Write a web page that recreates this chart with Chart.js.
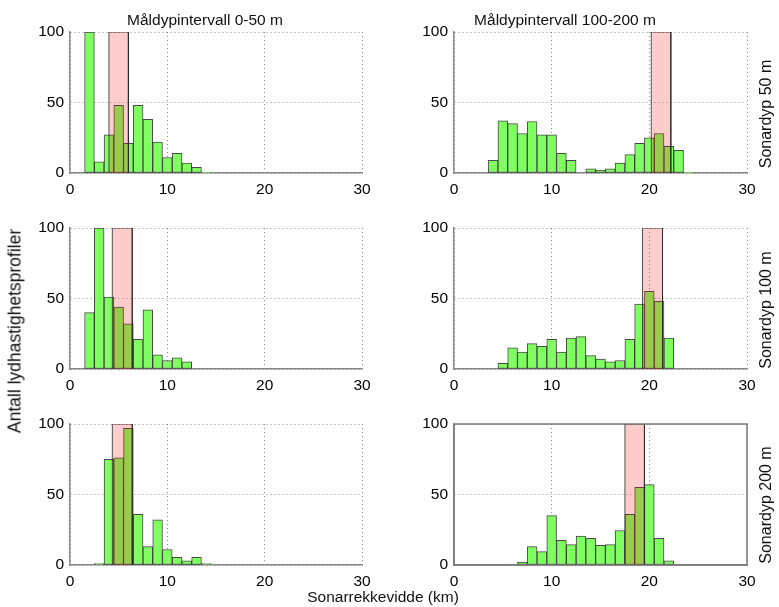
<!DOCTYPE html>
<html>
<head>
<meta charset="utf-8">
<script src="https://cdn.jsdelivr.net/npm/chart.js@4/dist/chart.umd.min.js"></script>
<style>
    body { margin: 0; background: #fff; }
    #page { position: relative; width: 779px; height: 607px; overflow: hidden; font-family: "Liberation Sans", Arial, sans-serif; }
    #page canvas { position: absolute; }
    .lbl { position: absolute; font-size: 15.5px; color: #111; white-space: nowrap; transform: translate(-50%, -50%); }
    .rot { transform: translate(-50%, -50%) rotate(-90deg); }
</style>
</head>
<body>
<div id="page">
    <canvas id="p1" width="367" height="185" style="left:25px;top:16px"></canvas>
    <canvas id="p2" width="368" height="185" style="left:409px;top:16px"></canvas>
    <canvas id="p3" width="367" height="185" style="left:25px;top:212px"></canvas>
    <canvas id="p4" width="368" height="185" style="left:409px;top:212px"></canvas>
    <canvas id="p5" width="367" height="185" style="left:25px;top:408px"></canvas>
    <canvas id="p6" width="368" height="185" style="left:409px;top:408px"></canvas>

    <div class="lbl" style="left:205px;top:20px">Måldypintervall 0-50 m</div>
    <div class="lbl" style="left:565px;top:20px">Måldypintervall 100-200 m</div>
    <div class="lbl rot" style="left:766px;top:114px;font-size:16px">Sonardyp 50 m</div>
    <div class="lbl rot" style="left:766px;top:310px;font-size:16px">Sonardyp 100 m</div>
    <div class="lbl rot" style="left:766px;top:505px;font-size:16px">Sonardyp 200 m</div>
    <div class="lbl rot" style="left:15px;top:331px;font-size:17.5px">Antall lydhastighetsprofiler</div>
    <div class="lbl" style="left:383px;top:597px">Sonarrekkevidde (km)</div>
</div>
<script>
// bin centres (km), 1 km wide histogram bins
const binCentres = [1, 2, 3, 4, 5, 6, 7, 8, 9, 10, 11, 12, 13, 14, 15, 16, 17, 18, 19, 20, 21, 22, 23, 24, 25, 26, 27, 28, 29];

// counts per bin, one array per panel (sonar depth / target depth interval)
const counts50Shallow  = [0, 100, 8, 27, 48, 21, 48, 38, 22, 11, 14, 7, 4, 0.5, 0, 0, 0, 0, 0, 0, 0, 0, 0, 0, 0, 0, 0, 0, 0];
const counts50Deep     = [0, 0, 0, 9, 37, 35, 28, 36.5, 27, 27, 14, 9, 0, 3, 2, 3, 7, 13, 21, 25, 28, 19, 16, 0.5, 0, 0, 0, 0, 0];
const counts100Shallow = [0, 40, 100, 51, 44, 32, 21, 42, 10, 6, 8, 5, 0, 0, 0, 0, 0, 0, 0, 0, 0, 0, 0, 0, 0, 0, 0, 0, 0];
const counts100Deep    = [0, 0, 0, 0, 4, 15, 12, 18, 16, 21, 12, 22, 23, 9.5, 7, 5, 6, 21, 46, 55, 48, 22, 0, 0, 0, 0, 0, 0, 0];
const counts200Shallow = [0, 0, 1, 75, 76, 97, 36, 13, 32, 11, 5.5, 3, 5.5, 1, 0, 0, 0, 0, 0, 0, 0, 0, 0, 0, 0, 0, 0, 0, 0];
const counts200Deep    = [0, 0, 0, 0, 0, 0.5, 2, 13, 9.5, 35, 17.5, 14.5, 20.5, 19, 14, 14.5, 24.5, 36, 55, 57, 19, 3, 0, 0, 0, 0, 0, 0, 0];

// highlighted range band [from, to] in km
const band50Shallow  = [4, 6];
const band50Deep     = [20.2, 22.2];
const band100Shallow = [4.35, 6.4];
const band100Deep    = [19.3, 21.35];
const band200Shallow = [4.35, 6.4];
const band200Deep    = [17.5, 19.5];

const bandHeight = 100;
const xTicks = [0, 10, 20, 30];
const yTicks = [0, 50, 100];

const FONT = {family: "'Liberation Sans', Arial, sans-serif", size: 15.5};

// padding around the plot area inside each canvas
const PAD = {left: 45, right: 30, top: 16, bottom: 28};

/**
 * draws a solid box round the plot area
 */
const framePlugin = {
    id: 'frame',
    afterDraw(chart) {
        const {ctx, chartArea: a} = chart;
        ctx.save();
        ctx.strokeStyle = '#777';
        ctx.lineWidth = 1.5;
        ctx.strokeRect(a.left, a.top, a.right - a.left, a.bottom - a.top);
        ctx.restore();
    }
};

/**
 * builds one histogram panel
 * @param id {string} canvas id
 * @param counts {number[]}
 * @param band {number[]}
 * @param framed {boolean}
 */
function makePanel(id, counts, band, framed) {
    const bars = binCentres.map((x, i) => ({x: x, y: counts[i]}));
    const bandPoints = [
        {x: band[0], y: 0},
        {x: band[0], y: bandHeight},
        {x: band[1], y: bandHeight},
        {x: band[1], y: 0}
    ];
    return new Chart(document.getElementById(id), {
        type: 'bar',
        data: {
            datasets: [
                {
                    type: 'line',
                    data: bandPoints,
                    order: 0,
                    fill: 'origin',
                    backgroundColor: 'rgba(255, 0, 0, 0.2)',
                    borderColor: 'rgba(40, 40, 40, 0.8)',
                    borderWidth: 1,
                    pointRadius: 0,
                    tension: 0
                },
                {
                    type: 'bar',
                    data: bars,
                    order: 1,
                    backgroundColor: 'rgb(128, 255, 96)',
                    borderColor: 'rgba(40, 40, 40, 0.85)',
                    borderWidth: 1,
                    borderSkipped: false,
                    barPercentage: 1,
                    categoryPercentage: 1
                }
            ]
        },
        options: {
            responsive: false,
            animation: false,
            devicePixelRatio: 1,
            layout: {padding: {top: PAD.top, right: PAD.right, left: 0, bottom: 0}},
            plugins: {
                legend: {display: false},
                tooltip: {enabled: false}
            },
            scales: {
                x: {
                    type: 'linear',
                    min: 0,
                    max: 30,
                    offset: false,
                    afterBuildTicks: s => { s.ticks = xTicks.map(v => ({value: v})); },
                    afterFit: s => { s.height = PAD.bottom; },
                    ticks: {font: FONT, color: '#000', padding: 7, maxRotation: 0},
                    grid: {offset: false, drawTicks: false, color: 'rgba(0,0,0,0.45)', lineWidth: 1},
                    border: {color: '#888', width: 1.5, dash: [1, 3]}
                },
                y: {
                    min: 0,
                    max: 100,
                    afterBuildTicks: s => { s.ticks = yTicks.map(v => ({value: v})); },
                    afterFit: s => { s.width = PAD.left; },
                    ticks: {font: FONT, color: '#000', padding: 6},
                    grid: {drawTicks: false, color: 'rgba(0,0,0,0.45)', lineWidth: 1},
                    border: {color: '#888', width: 1.5, dash: [1, 3]}
                }
            }
        },
        plugins: framed ? [framePlugin] : []
    });
}

makePanel('p1', counts50Shallow, band50Shallow, false);
makePanel('p2', counts50Deep, band50Deep, false);
makePanel('p3', counts100Shallow, band100Shallow, false);
makePanel('p4', counts100Deep, band100Deep, false);
makePanel('p5', counts200Shallow, band200Shallow, false);
makePanel('p6', counts200Deep, band200Deep, true);
</script>
</body>
</html>
